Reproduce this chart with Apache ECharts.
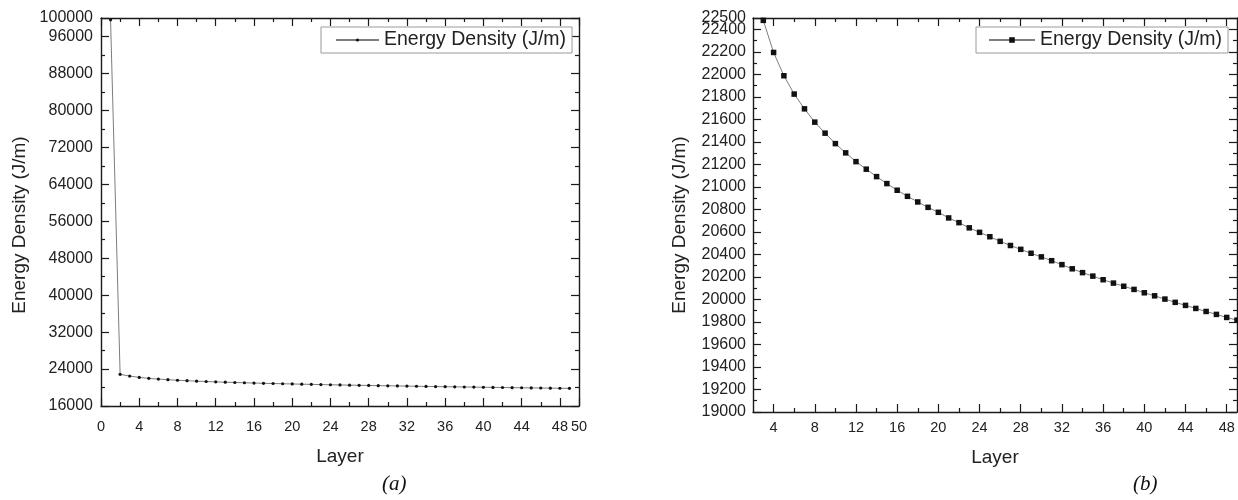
<!DOCTYPE html>
<html>
<head>
<meta charset="utf-8">
<script src="https://cdn.jsdelivr.net/npm/echarts@6/dist/echarts.min.js"></script>
<style>
  html, body { margin: 0; padding: 0; background: #ffffff; }
  #chart { width: 1238px; height: 500px; }
</style>
</head>
<body>
<div id="chart"></div>
<script>
// Energy density per layer
const layers = [1, 2, 3, 4, 5, 6, 7, 8, 9, 10, 11, 12, 13, 14, 15, 16, 17, 18, 19, 20,
  21, 22, 23, 24, 25, 26, 27, 28, 29, 30, 31, 32, 33, 34, 35, 36, 37, 38, 39, 40,
  41, 42, 43, 44, 45, 46, 47, 48, 49];
const energyDensity = [99600, 22850, 22479, 22194, 21987, 21824, 21693, 21575, 21477, 21384,
  21302, 21224, 21157, 21091, 21029, 20970, 20916, 20866, 20818, 20774,
  20724, 20682, 20636, 20596, 20557, 20516, 20479, 20445, 20410, 20378,
  20344, 20309, 20272, 20238, 20207, 20175, 20145, 20117, 20089, 20059,
  20032, 20003, 19974, 19947, 19920, 19893, 19867, 19840, 19816];

const seriesLabel = 'Energy Density (J/m)';
const axisTitleX = 'Layer';
const axisTitleY = 'Energy Density (J/m)';
const panelTags = ['(a)', '(b)'];

// Tick positions of the zoomed panel's layer axis
const zoomMajorTicks = [4, 8, 12, 16, 20, 24, 28, 32, 36, 40, 44, 48];
const zoomMinorTicks = [6, 10, 14, 18, 22, 26, 30, 34, 38, 42, 46];
// Top label of the zoomed panel's energy axis
const zoomTopLabel = [22500];

const points = layers.map((x, i) => [x, energyDensity[i]]);

const INK = '#1a1a1a';
const LABEL = '#222222';
const FONT = 'Liberation Sans';
const plain = v => String(v);

const lineStyleAxis = { color: INK, width: 1.4 };
const tickStyle = { color: INK, width: 1.2 };

function frameAxis(extra) {
  return Object.assign({
    type: 'value',
    splitLine: { show: false },
    axisLine: { show: true, onZero: false, lineStyle: lineStyleAxis },
    axisTick: { show: true, inside: true, length: 8, lineStyle: tickStyle },
    minorTick: { show: true, splitNumber: 2, length: 4, lineStyle: tickStyle },
    axisLabel: { show: false },
    nameMoveOverlap: false
  }, extra);
}

const chart = echarts.init(document.getElementById('chart'), null, { renderer: 'canvas' });

chart.setOption({
  animation: false,
  backgroundColor: '#ffffff',
  textStyle: { fontFamily: FONT },
  grid: [
    { left: 101, top: 18, width: 478, height: 388, outerBoundsMode: 'none', containLabel: false },
    { left: 753, top: 18, width: 484, height: 394, outerBoundsMode: 'none', containLabel: false },
    { left: 753, top: 18, width: 484, height: 394, outerBoundsMode: 'none', containLabel: false }
  ],
  legend: [
    {
      data: ['densityFull'],
      formatter: () => seriesLabel,
      selectedMode: false,
      left: 321, top: 27,
      padding: [3, 6, 3, 14],
      itemWidth: 43, itemHeight: 4,
      borderColor: '#9a9a9a', borderWidth: 1, backgroundColor: '#ffffff',
      textStyle: { fontFamily: FONT, fontSize: 19.5, color: LABEL }
    },
    {
      data: ['densityZoom'],
      formatter: () => seriesLabel,
      selectedMode: false,
      left: 976, top: 27,
      padding: [3, 6, 3, 12],
      itemWidth: 46, itemHeight: 7,
      borderColor: '#9a9a9a', borderWidth: 1, backgroundColor: '#ffffff',
      textStyle: { fontFamily: FONT, fontSize: 19.5, color: LABEL }
    }
  ],
  xAxis: [
    frameAxis({
      gridIndex: 0, position: 'bottom', min: 0, max: 50, interval: 4,
      axisLabel: { show: true, margin: 13, fontSize: 14.5, color: LABEL, fontFamily: FONT,
        formatter: plain, showMinLabel: true, showMaxLabel: true, hideOverlap: false },
      name: axisTitleX, nameLocation: 'middle', nameGap: 41,
      nameTextStyle: { fontSize: 19, color: LABEL, fontFamily: FONT }
    }),
    frameAxis({ gridIndex: 0, position: 'top', min: 0, max: 50, interval: 4 }),
    frameAxis({
      gridIndex: 1, position: 'bottom', min: 2, max: 49,
      minorTick: { show: false },
      axisTick: { show: true, inside: true, length: 8, lineStyle: tickStyle, customValues: zoomMajorTicks },
      axisLabel: { show: true, margin: 8, fontSize: 14.5, color: LABEL, fontFamily: FONT,
        formatter: plain, customValues: zoomMajorTicks, hideOverlap: false },
      name: axisTitleX, nameLocation: 'middle', nameGap: 36,
      nameTextStyle: { fontSize: 19, color: LABEL, fontFamily: FONT }
    }),
    frameAxis({
      gridIndex: 1, position: 'top', min: 2, max: 49,
      minorTick: { show: false },
      axisTick: { show: true, inside: true, length: 8, lineStyle: tickStyle, customValues: zoomMajorTicks }
    }),
    frameAxis({
      gridIndex: 2, position: 'bottom', min: 2, max: 49,
      axisLine: { show: false },
      minorTick: { show: false },
      axisTick: { show: true, inside: true, length: 4, lineStyle: tickStyle, customValues: zoomMinorTicks }
    }),
    frameAxis({
      gridIndex: 2, position: 'top', min: 2, max: 49,
      axisLine: { show: false },
      minorTick: { show: false },
      axisTick: { show: true, inside: true, length: 4, lineStyle: tickStyle, customValues: zoomMinorTicks }
    })
  ],
  yAxis: [
    frameAxis({
      gridIndex: 0, position: 'left', min: 16000, max: 100000, interval: 8000,
      axisLabel: { show: true, margin: 8, fontSize: 16, color: LABEL, fontFamily: FONT,
        formatter: plain, showMinLabel: true, showMaxLabel: true, hideOverlap: false },
      name: axisTitleY, nameLocation: 'middle', nameGap: 72,
      nameTextStyle: { fontSize: 19, color: LABEL, fontFamily: FONT, padding: [0, 26, 0, 0] }
    }),
    frameAxis({ gridIndex: 0, position: 'right', min: 16000, max: 100000, interval: 8000 }),
    frameAxis({
      gridIndex: 1, position: 'left', min: 19000, max: 22500, interval: 200,
      axisLabel: { show: true, margin: 7, fontSize: 16, color: LABEL, fontFamily: FONT,
        formatter: plain, showMinLabel: true, showMaxLabel: false, hideOverlap: false },
      name: axisTitleY, nameLocation: 'middle', nameGap: 64,
      nameTextStyle: { fontSize: 19, color: LABEL, fontFamily: FONT, padding: [0, 20, 0, 0] }
    }),
    frameAxis({ gridIndex: 1, position: 'right', min: 19000, max: 22500, interval: 200 }),
    {
      type: 'value', gridIndex: 2, position: 'left', min: 19000, max: 22500,
      splitLine: { show: false },
      axisLine: { show: false },
      axisTick: { show: false },
      minorTick: { show: false },
      axisLabel: { show: true, margin: 7, fontSize: 16, color: LABEL, fontFamily: FONT,
        formatter: plain, customValues: zoomTopLabel, hideOverlap: false }
    }
  ],
  series: [
    {
      name: 'densityFull',
      type: 'line',
      xAxisIndex: 0, yAxisIndex: 0,
      data: points,
      symbol: 'circle', symbolSize: 3.2,
      itemStyle: { color: '#111111' },
      lineStyle: { color: '#7d7d7d', width: 1 },
      clip: true
    },
    {
      name: 'densityZoom',
      type: 'line',
      xAxisIndex: 2, yAxisIndex: 2,
      data: points,
      symbol: 'rect', symbolSize: 5.5,
      itemStyle: { color: '#111111' },
      lineStyle: { color: '#7d7d7d', width: 1 },
      clip: true
    }
  ],
  graphic: [
    { type: 'text', left: 382, top: 474,
      style: { text: panelTags[0], font: 'italic 21px "Liberation Serif"', fill: '#111111' } },
    { type: 'text', left: 1133, top: 474,
      style: { text: panelTags[1], font: 'italic 21px "Liberation Serif"', fill: '#111111' } }
  ]
});
</script>
</body>
</html>
